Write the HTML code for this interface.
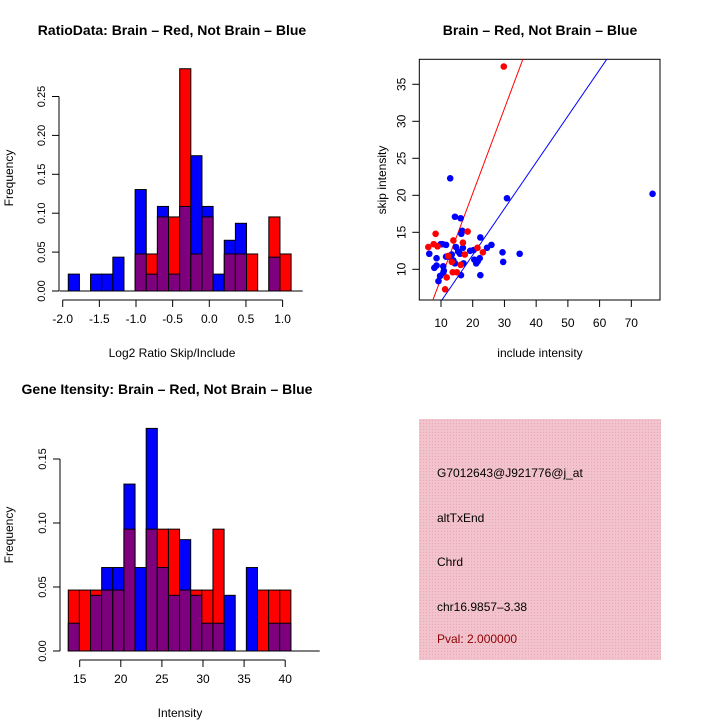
<!DOCTYPE html>
<html><head><meta charset="utf-8"><style>
html,body{margin:0;padding:0;background:#fff}
svg{display:block;font-family:"Liberation Sans",sans-serif}
</style></head><body>
<svg id="c" width="720" height="720" viewBox="0 0 720 720" xmlns="http://www.w3.org/2000/svg">
<defs>
<pattern id="hatch" width="3" height="3" patternUnits="userSpaceOnUse"><rect width="3" height="3" fill="#f3c3cd"/><rect width="1" height="1" fill="#e8a8b8"/></pattern>
</defs>
<text x="172" y="35" font-size="14" font-weight="bold" text-anchor="middle">RatioData: Brain – Red, Not Brain – Blue</text>
<text x="540" y="35" font-size="14" font-weight="bold" text-anchor="middle">Brain – Red, Not Brain – Blue</text>
<text x="167" y="394" font-size="14" font-weight="bold" text-anchor="middle">Gene Itensity: Brain – Red, Not Brain – Blue</text>
<text x="172" y="357" font-size="12" text-anchor="middle">Log2 Ratio Skip/Include</text>
<text x="13" y="178" font-size="12" text-anchor="middle" transform="rotate(-90 13 178)">Frequency</text>
<text x="540" y="357" font-size="12" text-anchor="middle">include intensity</text>
<text x="386" y="180" font-size="12" text-anchor="middle" transform="rotate(-90 386 180)">skip intensity</text>
<text x="180" y="717" font-size="12" text-anchor="middle">Intensity</text>
<text x="13" y="535" font-size="12" text-anchor="middle" transform="rotate(-90 13 535)">Frequency</text>
<rect x="419" y="419" width="242" height="241" fill="url(#hatch)"/>
<text x="437" y="477" font-size="12">G7012643@J921776@j_at</text>
<text x="437" y="522" font-size="12">altTxEnd</text>
<text x="437" y="566" font-size="12">Chrd</text>
<text x="437" y="611" font-size="12">chr16.9857–3.38</text>
<text x="437" y="643" font-size="12" fill="#8b0000">Pval: 2.000000</text>
<g id="g1"></g><g id="g2"></g><g id="g3"></g>
</svg>
<script>
// Ratio histogram data
const ratioBinStart = -1.924, ratioBinWidth = 0.152;
const ratioBlue = [0.0217,0,0.0217,0.0217,0.0435,0,0.1304,0.0217,0.1087,0.0217,0.1087,0.1739,0.1087,0.0217,0.0652,0.087,0,0,0.0435,0];
const ratioRed  = [0,0,0,0,0,0,0.0476,0.0476,0.0952,0.0952,0.2857,0.0476,0.0952,0,0.0476,0.0476,0.0476,0,0.0952,0.0476];
const ratioXTicks = [-2.0,-1.5,-1.0,-0.5,0.0,0.5,1.0];
const ratioYTicks = [0,0.05,0.10,0.15,0.20,0.25];
// Intensity histogram data
const intBinStart = 13.61, intBinWidth = 1.354;
const intBlue = [0.0217,0,0.0435,0.0652,0.0652,0.1304,0.0652,0.1739,0.0652,0.0435,0.087,0.0435,0.0217,0.0217,0.0435,0,0.0652,0,0.0217,0.0217];
const intRed  = [0.0476,0.0476,0.0476,0.0476,0.0476,0.0952,0,0.0952,0.0952,0.0952,0.0476,0.0476,0.0476,0.0952,0,0,0,0.0476,0.0476,0.0476];
const intXTicks = [15,20,25,30,35,40];
const intYTicks = [0,0.05,0.10,0.15];
// Scatter data
const redX = [29.8,6.0,8.3,7.7,8.9,13.9,12.3,11.8,11.3,13.7,15.0,16.9,18.4,17.5,21.5,23.2,16.2,13.4];
const redY = [37.4,13.0,14.8,13.4,13.1,13.9,11.8,8.9,7.3,9.6,9.6,13.6,15.1,12.0,12.9,12.3,10.6,11.0];
const blueX = [12.9,14.4,16.2,16.4,16.7,22.4,25.9,24.5,30.8,76.7,29.4,29.6,34.8,22.4,6.3,8.6,7.9,8.6,9.2,9.7,9.9,10.5,11.6,10.7,10.9,11.6,12.6,13.9,14.4,14.7,15.4,16.0,16.3,17.1,16.9,19.2,20.3,20.5,21.1,21.6,22.2,10.7,13.4];
const blueY = [22.3,17.1,16.9,14.8,15.2,14.3,13.3,12.9,19.6,20.2,12.3,11.0,12.1,9.2,12.1,11.5,10.2,10.5,8.4,9.1,13.4,13.4,13.3,10.4,9.8,11.7,11.7,11.2,10.8,13.0,12.4,12.1,9.2,10.8,12.9,12.5,12.6,11.3,10.8,11.1,11.5,9.5,12.0];
const redFit = [-2.69,1.147], blueFit = [-0.59,0.626];
const scXTicks = [10,20,30,40,50,60,70];
const scYTicks = [10,15,20,25,30,35];

const NS="http://www.w3.org/2000/svg";
function mk(p,t,a){const e=document.createElementNS(NS,t);for(const k in a)e.setAttribute(k,a[k]);p.appendChild(e);return e;}

function hist(g,o){
  const sx=v=>o.x0+(v-o.xv0)*o.kx, sy=v=>o.y0-v*o.ky;
  for(let i=0;i<o.blue.length;i++){
    const l=sx(o.start+i*o.w), r=sx(o.start+(i+1)*o.w);
    const b=o.blue[i], rd=o.red[i], hi=Math.max(b,rd), lo=Math.min(b,rd);
    if(hi>0){
      const e=mk(g,'rect',{x:l,y:sy(hi),width:r-l,height:sy(0)-sy(hi),fill:b>=rd?'#0000ff':'#ff0000',stroke:'#000','stroke-width':1});
      
      
    }
    if(lo>0){
      const e=mk(g,'rect',{x:l,y:sy(lo),width:r-l,height:sy(0)-sy(lo),fill:'#7f007f',stroke:'#000','stroke-width':1});
      
      
    }
  }
  const xt=o.xticks, xa=mk(g,'g',{});
  
  
  const ay=o.y0+9;
  mk(xa,'line',{x1:sx(xt[0]),x2:sx(xt[xt.length-1]),y1:ay,y2:ay,stroke:'#000'});
  xt.forEach(t=>{mk(xa,'line',{x1:sx(t),x2:sx(t),y1:ay,y2:ay+7,stroke:'#000'});
    const tx=mk(xa,'text',{x:sx(t),y:ay+23,'font-size':12,'text-anchor':'middle'});tx.textContent=o.fmtx(t);});
  mk(g,'line',{x1:o.x0-3,x2:o.x0+o.axisW,y1:o.y0,y2:o.y0,stroke:'#000'});
  const ya=mk(g,'g',{});
  
  
  const yt=o.yticks;
  mk(ya,'line',{x1:o.ax,x2:o.ax,y1:sy(yt[0]),y2:sy(yt[yt.length-1]),stroke:'#000'});
  yt.forEach(t=>{mk(ya,'line',{x1:o.ax,x2:o.ax-7,y1:sy(t),y2:sy(t),stroke:'#000'});
    const tx=mk(ya,'text',{x:o.ax-14,y:sy(t),'font-size':11,'text-anchor':'middle',transform:`rotate(-90 ${o.ax-14} ${sy(t)})`});tx.textContent=t.toFixed(2);});
}
hist(document.getElementById('g1'),{name:'ratio',blue:ratioBlue,red:ratioRed,start:ratioBinStart,w:ratioBinWidth,
  x0:62.7,xv0:-2,kx:73.3,y0:291,ky:778,xticks:ratioXTicks,yticks:ratioYTicks,ax:59,axisW:240,fmtx:t=>t.toFixed(1)});
hist(document.getElementById('g2'),{name:'intensity',blue:intBlue,red:intRed,start:intBinStart,w:intBinWidth,
  x0:79.7,xv0:15,kx:8.22,y0:651,ky:1280,xticks:intXTicks,yticks:intYTicks,ax:60,axisW:240,fmtx:t=>String(t)});

// scatter
(function(){
  const g=document.getElementById('g3');
  const L=419.3,R=660,T=59.3,B=300;
  const sx=v=>441+(v-10)*3.172, sy=v=>269.3-(v-10)*7.4;
  const frame=mk(g,'rect',{x:L,y:T,width:R-L,height:B-T,fill:'none',stroke:'#000'});
  
  
  const cp=mk(g,'clipPath',{id:'sc'});mk(cp,'rect',{x:L,y:T,width:R-L,height:B-T});
  [[redFit,'#ff0000','red-fit-line'],[blueFit,'#0000ff','blue-fit-line']].forEach(([f,c,n])=>{
    const x1=0,x2=100;
    const e=mk(g,'line',{x1:sx(x1),y1:sy(f[0]+f[1]*x1),x2:sx(x2),y2:sy(f[0]+f[1]*x2),stroke:c,'stroke-width':1,'clip-path':'url(#sc)'});
    
    
  });
  blueX.forEach((x,i)=>{const e=mk(g,'circle',{cx:sx(x),cy:sy(blueY[i]),r:3.3,fill:'#0000ff'});
    
    });
  redX.forEach((x,i)=>{const e=mk(g,'circle',{cx:sx(x),cy:sy(redY[i]),r:3.3,fill:'#ff0000'});
    
    });
  const xa=mk(g,'g',{});
  
  
  mk(xa,'line',{x1:sx(scXTicks[0]),x2:sx(scXTicks[scXTicks.length-1]),y1:B,y2:B,stroke:'#000'});
  scXTicks.forEach(t=>{mk(xa,'line',{x1:sx(t),x2:sx(t),y1:B,y2:B+7,stroke:'#000'});
    const tx=mk(xa,'text',{x:sx(t),y:B+27,'font-size':12,'text-anchor':'middle'});tx.textContent=t;});
  const ya=mk(g,'g',{});
  
  
  scYTicks.forEach(t=>{mk(ya,'line',{x1:L,x2:L-7,y1:sy(t),y2:sy(t),stroke:'#000'});
    const tx=mk(ya,'text',{x:L-14,y:sy(t),'font-size':12,'text-anchor':'middle',transform:`rotate(-90 ${L-14} ${sy(t)})`});tx.textContent=t;});
})();
</script>
</body></html>
